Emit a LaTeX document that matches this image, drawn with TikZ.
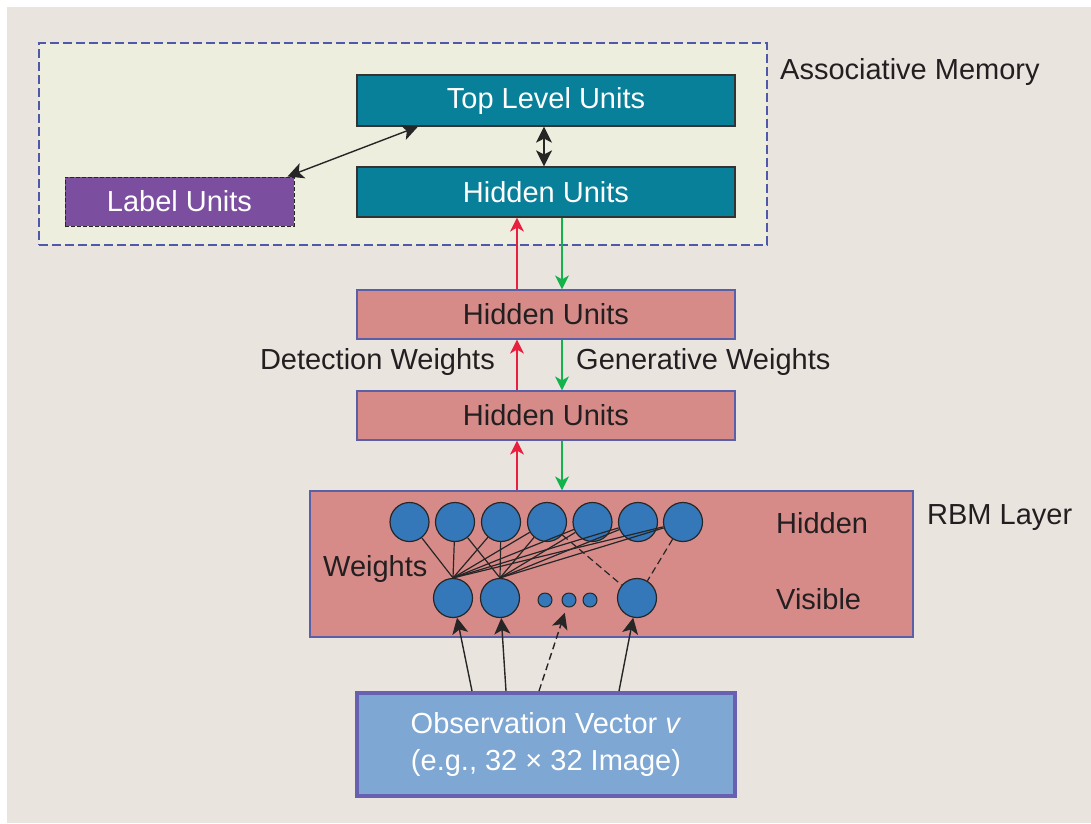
\documentclass[tikz,border=0pt]{standalone}
\usepackage{fontspec}
\setmainfont{Liberation Sans}
\usetikzlibrary{arrows.meta}

\definecolor{bgc}{RGB}{234,228,223}
\definecolor{memfill}{RGB}{238,238,222}
\definecolor{memedge}{RGB}{80,88,170}
\definecolor{tealc}{RGB}{8,128,153}
\definecolor{labelc}{RGB}{124,78,160}
\definecolor{pinkc}{RGB}{214,139,137}
\definecolor{rbmedge}{RGB}{90,95,168}
\definecolor{unitc}{RGB}{52,120,186}
\definecolor{obsfill}{RGB}{126,167,212}
\definecolor{obsedge}{RGB}{104,96,176}
\definecolor{redc}{RGB}{234,30,62}
\definecolor{greenc}{RGB}{20,178,75}
\definecolor{txt}{RGB}{35,31,32}

\begin{document}
\begin{tikzpicture}[x=1pt, y=-1pt,
  every node/.style={font=\fontsize{29}{35}\selectfont, text=txt},
  box/.style={line width=1.2pt, minimum width=378pt, minimum height=50pt, inner sep=0pt},
  tealbox/.style={box, draw=black!80, fill=tealc, text=white},
  pinkbox/.style={box, draw=rbmedge, fill=pinkc},
  unit/.style={circle, draw=black!85, line width=1.2pt, fill=unitc, minimum size=39pt, inner sep=0pt},
  smalldot/.style={circle, draw=black!85, line width=1pt, fill=unitc, minimum size=14pt, inner sep=0pt},
  conn/.style={draw=black!85, line width=1.4pt},
  bothway/.style={conn, {Stealth[length=16pt, width=16pt, inset=4pt]}-{Stealth[length=16pt, width=16pt, inset=4pt]}},
  oneway/.style={conn, -{Stealth[length=16pt, width=16pt, inset=4pt]}},
  detect/.style={draw=redc, line width=1.3pt, -{Stealth[length=14pt, width=14pt, inset=4pt]}},
  generate/.style={draw=greenc, line width=1.3pt, -{Stealth[length=14pt, width=14pt, inset=4pt]}},
  weight/.style={draw=black!85, line width=1.2pt},
  longdash/.style={dash pattern=on 7pt off 4pt},
  plainlbl/.style={inner sep=0pt}
]
\useasboundingbox (0,0) rectangle (1091,823);
\fill[bgc] (7,7) rectangle (1091,823);

% associative memory region
\node[draw=memedge, fill=memfill, line width=2.6pt, dash pattern=on 9pt off 4pt,
      minimum width=728pt, minimum height=202pt, inner sep=0pt] (mem) at (403,144) {};
\node[plainlbl, anchor=west] (memlbl) at (780,72) {Associative Memory};

\node[tealbox, minimum height=51pt] (top) at (546,100.5) {Top Level Units};
\node[tealbox] (hid0) at (546,192) {Hidden Units};
\node[box, draw=black!85, line width=1pt, dash pattern=on 4pt off 2pt, fill=labelc, text=white,
      minimum width=229pt, minimum height=49pt] (lab) at (179.5,201.5) {Label Units};

\draw[bothway] (top.south -| 544,0) -- (hid0.north -| 544,0);
\draw[bothway] ([xshift=-7pt]lab.north east) -- (top.south -| 418,0);

% stacked hidden layers
\node[pinkbox, minimum height=49pt] (hid1) at (546,314.5) {Hidden Units};
\node[pinkbox, minimum height=49pt] (hid2) at (546,415.5) {Hidden Units};

\draw[detect] (hid1.north -| 517,0) -- (hid0.south -| 517,0);
\draw[generate] (hid0.south -| 562,0) -- (hid1.north -| 562,0);
\draw[detect] (hid2.north -| 517,0) -- (hid1.south -| 517,0);
\draw[generate] (hid1.south -| 562,0) -- (hid2.north -| 562,0);

\node[plainlbl, anchor=east] (detlbl) at (495,362) {Detection Weights};
\node[plainlbl, anchor=west] (genlbl) at (576,362) {Generative Weights};

% RBM layer
\node[draw=rbmedge, fill=pinkc, line width=1.2pt, minimum width=603pt, minimum height=146pt,
      inner sep=0pt] (rbm) at (611.5,564) {};
\draw[detect] (rbm.north -| 517,0) -- (hid2.south -| 517,0);
\draw[generate] (hid2.south -| 562,0) -- (rbm.north -| 562,0);

\node[plainlbl, anchor=west] (rbmlbl) at (927,518) {RBM Layer};
\node[plainlbl, anchor=west] (hidlbl) at (776,523) {Hidden};
\node[plainlbl, anchor=west] (vislbl) at (776,599) {Visible};
\node[plainlbl, anchor=west] (wlbl) at (323,569) {Weights};

\foreach \i/\x in {1/409.5,2/455,3/501,4/547,5/592.5,6/638,7/683}
  \node[unit] (h\i) at (\x,522) {};
\node[unit] (v1) at (453,598) {};
\node[unit] (v2) at (500,598) {};
\node[unit] (v3) at (637,598) {};
\node[smalldot] (d1) at (545,600) {};
\node[smalldot] (d2) at (569,600) {};
\node[smalldot] (d3) at (590,600) {};

\foreach \i in {1,...,7} \draw[weight] (h\i) -- (v1.north);
\foreach \i in {2,...,7} \draw[weight] (h\i) -- (v2.north);
\draw[weight, longdash] (h4) -- (v3);
\draw[weight, longdash] (h7) -- (v3);

% observation vector
\node[draw=obsedge, fill=obsfill, line width=4pt, minimum width=378pt, minimum height=103pt,
      inner sep=0pt, align=center, text=white, font=\fontsize{29}{37}\selectfont] (obs) at (546,744.5)
      {Observation Vector \textit{v}\\(e.g., 32 × 32 Image)};

\draw[oneway] (obs.north -| 472,0) -- (v1);
\draw[oneway] (obs.north -| 506,0) -- (v2);
\draw[oneway, longdash, shorten >=6pt] (obs.north -| 539,0) -- (d2);
\draw[oneway] (obs.north -| 619,0) -- (v3);
\end{tikzpicture}
\end{document}
